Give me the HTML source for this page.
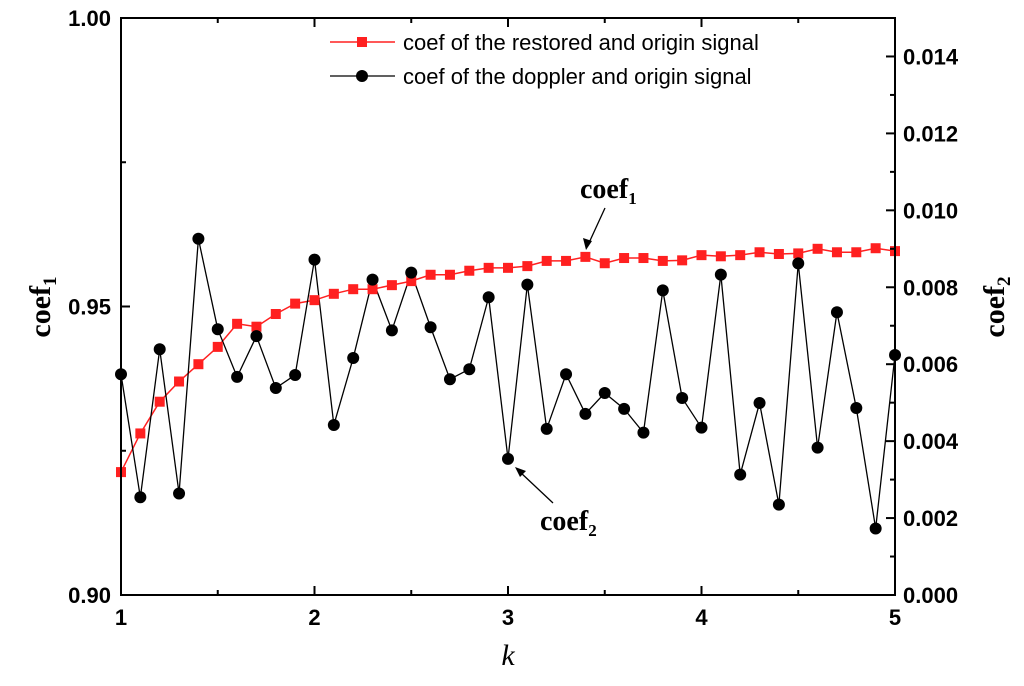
<!DOCTYPE html>
<html><head><meta charset="utf-8"><style>
body{margin:0;background:#fff;}
svg text{font-family:"Liberation Sans",Arial,sans-serif;}
</style></head><body>
<svg id="chart" width="1024" height="681" xmlns="http://www.w3.org/2000/svg">
<g id="plot"></g>
</svg>
<script>
const kValues=[1.0,1.1,1.2,1.3,1.4,1.5,1.6,1.7,1.8,1.9,2.0,2.1,2.2,2.3,2.4,2.5,2.6,2.7,2.8,2.9,3.0,3.1,3.2,3.3,3.4,3.5,3.6,3.7,3.8,3.9,4.0,4.1,4.2,4.3,4.4,4.5,4.6,4.7,4.8,4.9,5.0];
const coef1=[0.9213,0.928,0.9335,0.937,0.940,0.943,0.947,0.9465,0.9487,0.9505,0.9511,0.9522,0.953,0.953,0.9537,0.9544,0.9555,0.9555,0.9562,0.9567,0.9567,0.957,0.9579,0.9579,0.9586,0.9575,0.9584,0.9584,0.9579,0.958,0.9589,0.9587,0.9589,0.9594,0.9591,0.9592,0.96,0.9594,0.9594,0.9601,0.9596];
const coef2=[0.00574,0.00254,0.00639,0.00264,0.00926,0.00691,0.00567,0.00673,0.00538,0.00572,0.00872,0.00442,0.00616,0.0082,0.00688,0.00838,0.00696,0.00561,0.00587,0.00774,0.00354,0.00807,0.00432,0.00574,0.00471,0.00525,0.00484,0.00422,0.00792,0.00512,0.00435,0.00833,0.00313,0.00499,0.00235,0.00862,0.00383,0.00735,0.00486,0.00173,0.00624];
const xTicks=["1","2","3","4","5"];
const yLeftTicks=["0.90","0.95","1.00"];
const yRightTicks=["0.000","0.002","0.004","0.006","0.008","0.010","0.012","0.014"];

const L=121,R=895,T=18,B=595;
const X=v=>L+(v-1)/4*(R-L);
const YL=v=>B-(v-0.9)/0.1*(B-T);
const YR=v=>B-v/0.015*(B-T);
const NS="http://www.w3.org/2000/svg";
const g=document.getElementById('plot');
function mk(tag,attrs,parent){const e=document.createElementNS(NS,tag);for(const k in attrs)e.setAttribute(k,attrs[k]);(parent||g).appendChild(e);return e;}

let d1=kValues.map((k,i)=>(i?'L':'M')+X(k)+','+YL(coef1[i])).join('');
let p1=mk('path',{d:d1,fill:'none',stroke:'#ff2020','stroke-width':1.5});


let d2=kValues.map((k,i)=>(i?'L':'M')+X(k)+','+YR(coef2[i])).join('');
let p2=mk('path',{d:d2,fill:'none',stroke:'#000','stroke-width':1.3});


kValues.forEach((k,i)=>{
  let r=mk('rect',{x:X(k)-5,y:YL(coef1[i])-5,width:10,height:10,fill:'#ff2020'});
  
  
  let c=mk('circle',{cx:X(k),cy:YR(coef2[i]),r:6,fill:'#000'});
  
  
});

let fr=mk('rect',{x:L,y:T,width:R-L,height:B-T,fill:'none',stroke:'#000','stroke-width':2});



xTicks.forEach(t=>{const v=+t,x=X(v);
  mk('line',{x1:x,x2:x,y1:B,y2:B-9,stroke:'#000','stroke-width':2});
  mk('line',{x1:x,x2:x,y1:T,y2:T+9,stroke:'#000','stroke-width':2});
  let tx=mk('text',{x:x,y:B+30,'text-anchor':'middle','font-size':22,'font-weight':'bold'});tx.textContent=t;
  
  
  if(v<5){const xm=X(v+0.5);mk('line',{x1:xm,x2:xm,y1:B,y2:B-5,stroke:'#000','stroke-width':2});mk('line',{x1:xm,x2:xm,y1:T,y2:T+5,stroke:'#000','stroke-width':2});}
});
yLeftTicks.forEach(t=>{const v=+t,y=YL(v);
  mk('line',{x1:L,x2:L+9,y1:y,y2:y,stroke:'#000','stroke-width':2});
  let tx=mk('text',{x:L-10,y:y+8,'text-anchor':'end','font-size':22,'font-weight':'bold'});tx.textContent=t;
  
  
  if(v<1){const ym=YL(v+0.025);mk('line',{x1:L,x2:L+5,y1:ym,y2:ym,stroke:'#000','stroke-width':2});}
});
yRightTicks.forEach(t=>{const v=+t,y=YR(v);
  mk('line',{x1:R,x2:R-9,y1:y,y2:y,stroke:'#000','stroke-width':2});
  let tx=mk('text',{x:R+8,y:y+8,'text-anchor':'start','font-size':22,'font-weight':'bold'});tx.textContent=t;
  
  
  const ym=YR(v+0.001);mk('line',{x1:R,x2:R-5,y1:ym,y2:ym,stroke:'#000','stroke-width':2});
});
</script>
<svg width="1024" height="681" style="position:absolute;left:0;top:0" xmlns="http://www.w3.org/2000/svg">
<text x="508" y="665" text-anchor="middle" font-size="30" style="font-family:'Liberation Serif',serif;font-style:italic">k</text>
<text transform="translate(50,307) rotate(-90)" text-anchor="middle" font-size="30" font-weight="bold" style="font-family:'Liberation Serif',serif">coef<tspan font-size="19" dy="6">1</tspan></text>
<text transform="translate(1004,307) rotate(-90)" text-anchor="middle" font-size="30" font-weight="bold" style="font-family:'Liberation Serif',serif">coef<tspan font-size="19" dy="6">2</tspan></text>
<g>
<line x1="330" y1="42" x2="395" y2="42" stroke="#ff2020" stroke-width="1.5"/>
<rect x="357" y="37" width="10" height="10" fill="#ff2020"/>
<text x="403" y="50" font-size="22">coef of the restored and origin signal</text>
<line x1="330" y1="76" x2="395" y2="76" stroke="#000" stroke-width="1.3"/>
<circle cx="362" cy="76" r="6"/>
<text x="403" y="84" font-size="22">coef of the doppler and origin signal</text>
</g>
<g>
<text x="580" y="198" font-size="28" font-weight="bold" style="font-family:'Liberation Serif',serif">coef<tspan font-size="17" dy="6">1</tspan></text>
<line x1="605" y1="208" x2="588" y2="245" stroke="#000" stroke-width="1.3"/>
<polygon points="586,250 583,238 592,241" fill="#000"/>
</g>
<g>
<text x="540" y="530" font-size="28" font-weight="bold" style="font-family:'Liberation Serif',serif">coef<tspan font-size="17" dy="6">2</tspan></text>
<line x1="553" y1="503" x2="520" y2="472" stroke="#000" stroke-width="1.3"/>
<polygon points="515,467 526,471 520,477" fill="#000"/>
</g>
</svg>
</body></html>
